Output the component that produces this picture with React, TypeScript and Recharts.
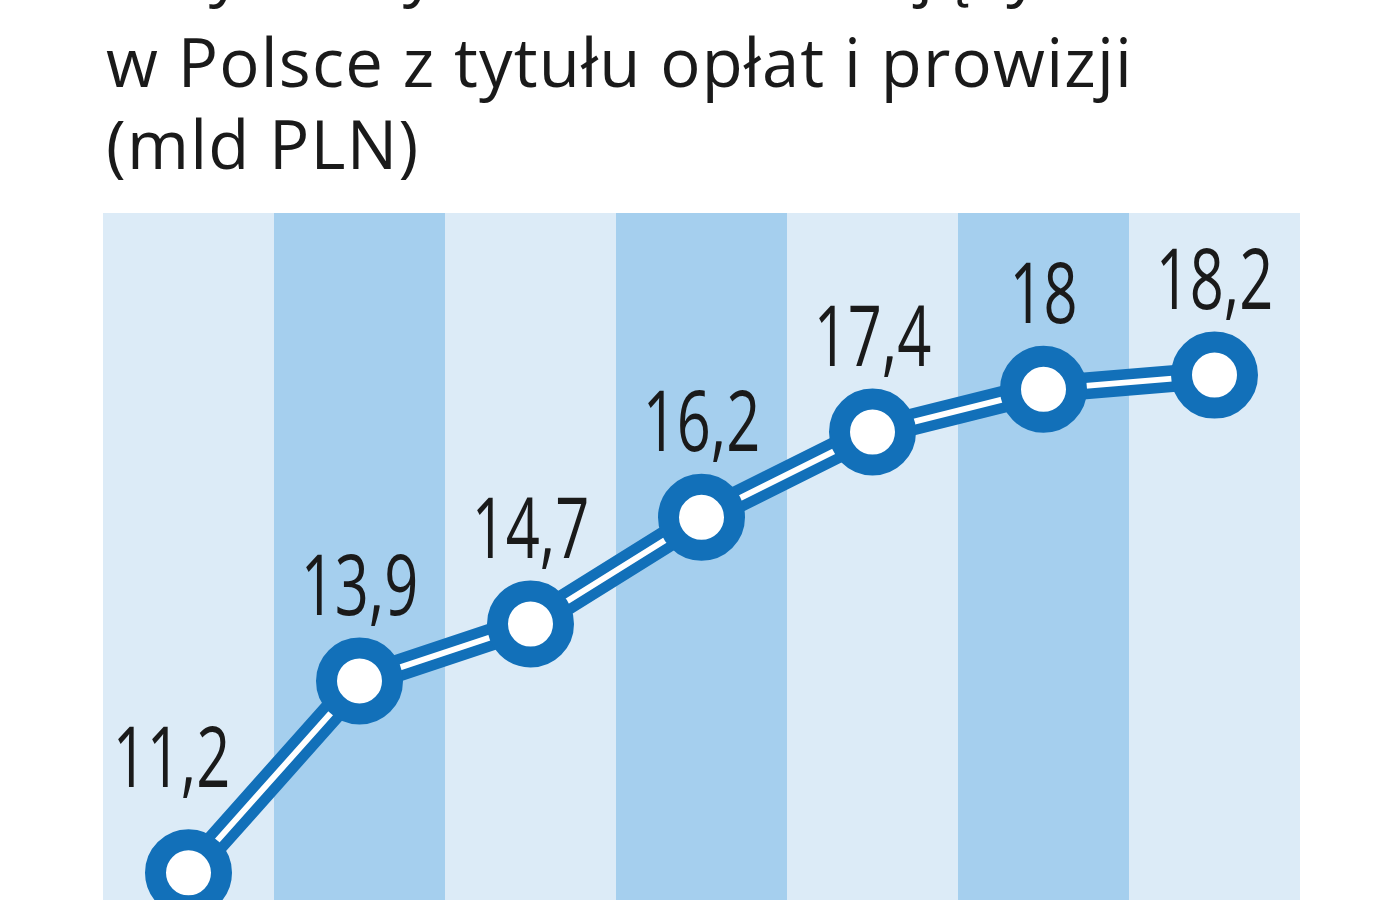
import { ComposedChart, Line, XAxis, YAxis, ReferenceArea, LabelList } from 'recharts'

// categories (axis labels are below the visible crop)
const years = ['2005', '2006', '2007', '2008', '2009', '2010', '2011']
const values = [11.2, 13.9, 14.7, 16.2, 17.4, 18, 18.2]

const titleLines = [
  'Przychody banków działających',
  'w Polsce z tytułu opłat i prowizji',
  '(mld PLN)',
]

const data = years.map((year, i) => ({ year, value: values[i] }))

const BLUE = '#1270b9'
const LIGHT = '#dcebf7'
const DARK = '#a5cfee'

function Dot(props: any) {
  const { cx, cy, index } = props
  if (cx == null || cy == null) return null
  return <circle key={index} cx={cx} cy={cy} r={33} fill="#fff" stroke={BLUE} strokeWidth={21} />
}

function ValueLabel(props: any) {
  const { x, y, value, index } = props
  const first = index === 0
  const tx = x + (first ? -17 : 0)
  const ty = y - (first ? 86 : 66)
  return (
    <text
      transform={`translate(${tx},${ty}) scale(0.71,1)`}
      x={0}
      y={0}
      textAnchor="middle"
      fontFamily="'Open Sans', sans-serif"
      fontSize={84}
      fill="#1a1a1a"
    >
      {String(value).replace('.', ',')}
    </text>
  )
}

export default function App() {
  return (
    <div style={{ position: 'absolute', left: 0, top: 0, width: 1400, height: 900, overflow: 'hidden', background: '#fff' }}>
      {titleLines.map((t, i) => (
        <div
          key={t}
          style={{
            position: 'absolute',
            left: 106,
            top: -62 + i * 82 - (i === 0 ? 12 : 0),
            fontFamily: "'Open Sans', sans-serif",
            fontSize: 67,
            lineHeight: '82px',
            height: 82,
            color: '#1a1a1a',
            whiteSpace: 'nowrap',
            letterSpacing: 1.2,
          }}
        >
          {t}
        </div>
      ))}
      <div style={{ position: 'absolute', left: 0, top: 0 }}>
        <ComposedChart width={1400} height={1050} data={data} margin={{ top: 213, right: 100, bottom: 47, left: 103 }}>
          <XAxis dataKey="year" scale="band" hide />
          <YAxis hide domain={[9.37, 20.48]} allowDataOverflow />
          {years.map((y, i) => (
            <ReferenceArea key={y} x1={y} x2={y} fill={i % 2 === 0 ? LIGHT : DARK} fillOpacity={1} stroke="none" ifOverflow="visible" />
          ))}
          <Line dataKey="value" stroke={BLUE} strokeWidth={27} dot={false} activeDot={false} isAnimationActive={false} />
          <Line dataKey="value" stroke="#fff" strokeWidth={6} dot={<Dot />} activeDot={false} isAnimationActive={false}>
            <LabelList dataKey="value" content={<ValueLabel />} />
          </Line>
        </ComposedChart>
      </div>
    </div>
  )
}
